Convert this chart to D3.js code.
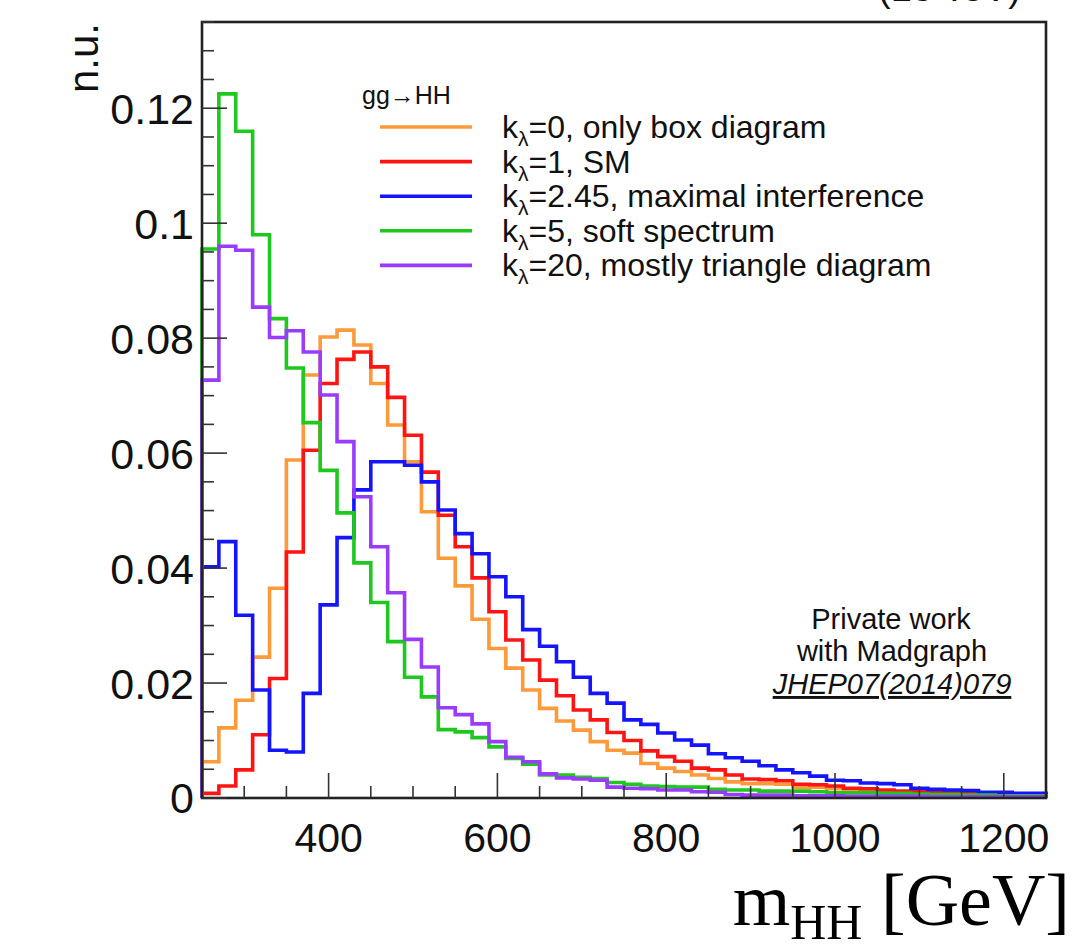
<!DOCTYPE html>
<html><head><meta charset="utf-8">
<script src="https://cdn.jsdelivr.net/npm/d3@7"></script>
<style>body{margin:0;background:#fff;} svg{display:block;}</style>
</head><body>
<svg id="c" width="1075" height="952"></svg>
<script>
// ---- data ----
const binEdges = d3.range(250, 1251, 20); // 50 bins of 20 GeV
const kl0 = [0.0063,0.0122,0.0170,0.0245,0.0365,0.0588,0.0736,0.0802,0.0814,0.0788,
  0.0721,0.0649,0.0585,0.0498,0.0417,0.0369,0.0311,0.0260,0.0226,0.0188,
  0.0156,0.0134,0.0118,0.0098,0.0083,0.0078,0.0060,0.0052,0.0046,0.0040,
  0.0034,0.0028,0.0025,0.0025,0.0024,0.0019,0.0019,0.0016,0.0014,0.0014,
  0.0012,0.0011,0.0011,0.0009,0.0008,0.0008,0.0007,0.0006,0.0005,0.0005];
const kl1 = [0.0008,0.0021,0.0049,0.0110,0.0208,0.0428,0.0605,0.0721,0.0763,0.0776,
  0.0750,0.0697,0.0631,0.0567,0.0492,0.0437,0.0383,0.0324,0.0275,0.0240,
  0.0205,0.0178,0.0153,0.0136,0.0114,0.0100,0.0082,0.0072,0.0064,0.0052,
  0.0049,0.0040,0.0033,0.0032,0.0030,0.0024,0.0023,0.0021,0.0017,0.0016,
  0.0014,0.0012,0.0011,0.0011,0.0009,0.0008,0.0008,0.0006,0.0005,0.0005];
const kl245 = [0.0402,0.0446,0.0318,0.0188,0.0083,0.0080,0.0182,0.0336,0.0453,0.0536,
  0.0585,0.0585,0.0579,0.0550,0.0501,0.0460,0.0425,0.0385,0.0350,0.0293,
  0.0264,0.0237,0.0210,0.0182,0.0165,0.0136,0.0128,0.0113,0.0101,0.0092,
  0.0077,0.0070,0.0064,0.0056,0.0049,0.0044,0.0038,0.0031,0.0030,0.0026,
  0.0025,0.0023,0.0017,0.0015,0.0014,0.0013,0.0010,0.0010,0.0008,0.0008];
const kl5 = [0.0955,0.1225,0.1160,0.0980,0.0834,0.0748,0.0653,0.0570,0.0496,0.0409,
  0.0340,0.0272,0.0210,0.0176,0.0119,0.0115,0.0105,0.0089,0.0069,0.0059,
  0.0040,0.0040,0.0036,0.0034,0.0027,0.0024,0.0021,0.0020,0.0019,0.0019,
  0.0015,0.0014,0.0014,0.0012,0.0012,0.0012,0.0011,0.0009,0.0009,0.0009,
  0.0008,0.0008,0.0007,0.0006,0.0006,0.0005,0.0005,0.0004,0.0004,0.0004];
const kl20 = [0.0727,0.0960,0.0953,0.0854,0.0801,0.0813,0.0776,0.0701,0.0620,0.0524,
  0.0437,0.0357,0.0276,0.0228,0.0157,0.0145,0.0129,0.0098,0.0071,0.0063,
  0.0042,0.0035,0.0033,0.0031,0.0019,0.0017,0.0016,0.0014,0.0014,0.0011,
  0.0010,0.0006,0.0005,0.0005,0.0005,0.0004,0.0004,0.0004,0.0003,0.0003,
  0.0003,0.0003,0.0003,0.0002,0.0002,0.0002,0.0002,0.0002,0.0002,0.0002];
const seriesNames = ["=0, only box diagram","=1, SM","=2.45, maximal interference","=5, soft spectrum","=20, mostly triangle diagram"];
const seriesColors = ["#ff9a3a","#ff1414","#1414ff","#1ec81e","#9a3cff"];
const seriesValues = [kl0, kl1, kl245, kl5, kl20];
const xTickValues = [400, 600, 800, 1000, 1200];
const yTickValues = [0, 0.02, 0.04, 0.06, 0.08, 0.1, 0.12];

// ---- layout ----
const svg = d3.select("#c");
const L = 202, R = 1046, T = 22, B = 798;
const x = d3.scaleLinear().domain([250, 1250]).range([L, R]);
const y = d3.scaleLinear().domain([0, 0.135]).range([B, T]);
const font = "'Liberation Sans', Arial, Helvetica, sans-serif";

// histograms
seriesValues.forEach((vals, s) => {
  const pts = [[x(binEdges[0]), y(0)]];
  vals.forEach((v, i) => {
    pts.push([x(binEdges[i]), y(v)]);
    pts.push([x(binEdges[i + 1]), y(v)]);
  });
  pts.push([x(binEdges[binEdges.length - 1]), y(0)]);
  svg.append("path")
    .attr("d", d3.line()(pts))
    .attr("fill", "none")
    .attr("stroke", seriesColors[s])
    .attr("stroke-width", 3.6)
    .attr("stroke-linejoin", "miter");
});

// frame
svg.append("rect").attr("x", L).attr("y", T).attr("width", R - L).attr("height", B - T)
  .attr("fill", "none").attr("stroke", "#222").attr("stroke-width", 2.6);

// ticks
const gTicks = svg.append("g").attr("stroke", "#333").attr("stroke-width", 1.6);
d3.range(0, 0.1351, 0.005).forEach(v => {
  const major = Math.abs(v / 0.02 - Math.round(v / 0.02)) < 1e-6;
  gTicks.append("line").attr("x1", L).attr("x2", L + (major ? 25 : 12))
    .attr("y1", y(v)).attr("y2", y(v));
});
d3.range(300, 1250, 50).forEach(v => {
  const major = v % 200 === 0;
  gTicks.append("line").attr("x1", x(v)).attr("x2", x(v))
    .attr("y1", B).attr("y2", B - (major ? 25 : 12));
});

// y tick labels
svg.append("g").selectAll("text").data(yTickValues).join("text")
  .attr("x", 194).attr("y", d => y(d)).attr("dy", "0.36em")
  .attr("text-anchor", "end").attr("font-family", font).attr("font-size", 43).attr("fill", "#111")
  .text(d => d === 0 ? "0" : d3.format("~g")(d));

// x tick labels
svg.append("g").selectAll("text").data(xTickValues).join("text")
  .attr("x", d => x(d)).attr("y", 852)
  .attr("text-anchor", "middle").attr("font-family", font).attr("font-size", 41).attr("fill", "#111")
  .text(d => d);

// y title
svg.append("text").attr("transform", "translate(98,23) rotate(-90)")
  .attr("text-anchor", "end").attr("font-family", font).attr("font-size", 42).attr("fill", "#111")
  .text("n.u.");

// x title (serif)
const xt = svg.append("text").attr("x", 1070).attr("y", 925).attr("text-anchor", "end")
  .attr("font-family", "'Liberation Serif', 'Times New Roman', serif").attr("font-size", 74).attr("fill", "#000");
xt.append("tspan").text("m");
xt.append("tspan").attr("font-size", 50).attr("dy", 14).text("HH");
xt.append("tspan").attr("dy", -14).text(" [GeV]");

// top-right cut-off label
svg.append("text").attr("x", 1021).attr("y", 1).attr("text-anchor", "end")
  .attr("font-family", font).attr("font-size", 38).attr("fill", "#111").text("(13 TeV)");

// legend
svg.append("text").attr("x", 362).attr("y", 104).attr("font-family", font).attr("font-size", 25)
  .attr("fill", "#111").text("gg\u2192HH");
const legY0 = 127, legDy = 34.6;
seriesNames.forEach((name, i) => {
  const yy = legY0 + i * legDy;
  svg.append("line").attr("x1", 380).attr("x2", 472).attr("y1", yy).attr("y2", yy)
    .attr("stroke", seriesColors[i]).attr("stroke-width", 3.6);
  const t = svg.append("text").attr("x", 502).attr("y", yy + 11)
    .attr("font-family", font).attr("font-size", 32).attr("fill", "#111");
  t.append("tspan").text("k");
  t.append("tspan").attr("font-size", 21).attr("dy", 8).text("\u03bb");
  t.append("tspan").attr("dy", -8).text(name);
});

// annotation
const ann = svg.append("g").attr("font-family", font).attr("font-size", 29).attr("fill", "#111")
  .attr("text-anchor", "middle");
ann.append("text").attr("x", 891).attr("y", 629).text("Private work");
ann.append("text").attr("x", 892).attr("y", 661).text("with Madgraph");
ann.append("text").attr("x", 892).attr("y", 694).attr("font-style", "italic")
  .attr("text-decoration", "underline").text("JHEP07(2014)079");
</script>
</body></html>
